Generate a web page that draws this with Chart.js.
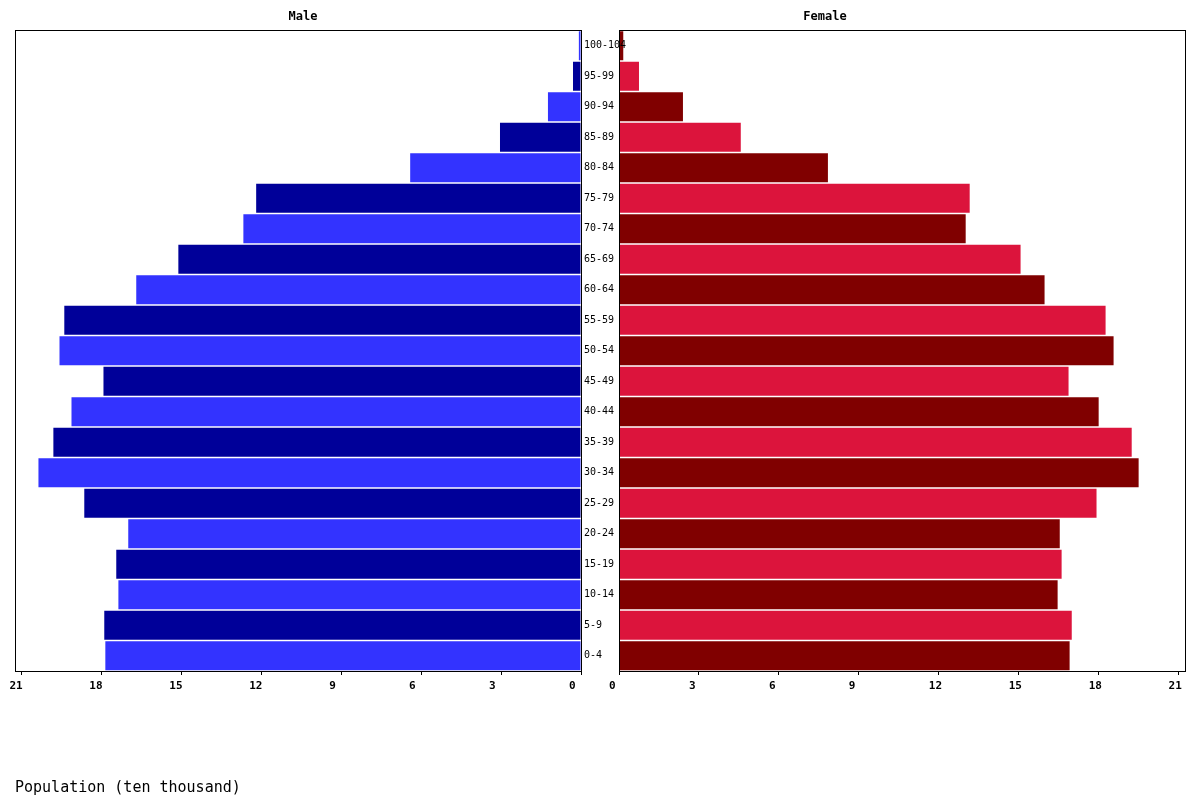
<!DOCTYPE html>
<html>
<head>
<meta charset="utf-8">
<title>Population pyramid</title>
<script src="https://cdn.jsdelivr.net/npm/chart.js@4.4.0/dist/chart.umd.min.js"></script>
<style>
  body { margin: 0; background: #fff; }
  #wrap { position: relative; width: 1200px; height: 800px; }
  #wrap canvas { position: absolute; left: 0; top: 0; }
</style>
</head>
<body>
<div id="wrap">
  <canvas id="chartMale" width="1200" height="800"></canvas>
  <canvas id="chartFemale" width="1200" height="800"></canvas>
</div>
<script>
// Kelompok umur, dari bawah ke atas
const ageGroups = ['0-4', '5-9', '10-14', '15-19', '20-24', '25-29', '30-34', '35-39', '40-44', '45-49',
  '50-54', '55-59', '60-64', '65-69', '70-74', '75-79', '80-84', '85-89', '90-94', '95-99', '100-104'];

// Populasi (sepuluh ribu)
const male = [17.85, 17.89, 17.36, 17.44, 16.99, 18.64, 20.36, 19.80, 19.12, 17.92,
  19.57, 19.39, 16.69, 15.11, 12.67, 12.19, 6.41, 3.04, 1.24, 0.30, 0.08];
const female = [16.91, 16.99, 16.46, 16.61, 16.54, 17.92, 19.50, 19.24, 18.00, 16.87,
  18.56, 18.26, 15.97, 15.07, 13.01, 13.16, 7.84, 4.57, 2.40, 0.75, 0.16];

// Sumbu x: 0 .. 21, tiap 3
const tickStep = 3;
const axisMax = 21.24;

const maleColors = ['#3333ff', '#000099'];
const femaleColors = ['#800000', '#dc143c'];

Chart.defaults.font.family = "'DejaVu Sans Mono', monospace";
Chart.defaults.color = '#000';

// Bingkai hitam di sekeliling area grafik
const panelBorder = {
  id: 'panelBorder',
  afterDraw(chart) {
    const { ctx, chartArea: a } = chart;
    ctx.save();
    ctx.strokeStyle = '#000';
    ctx.lineWidth = 1;
    ctx.strokeRect(Math.round(a.left) + 0.5, Math.round(a.top) + 0.5,
      Math.round(a.right - a.left), Math.round(a.bottom - a.top));
    ctx.restore();
  }
};

function xTicks(offset) {
  return {
    stepSize: tickStep,
    includeBounds: false,
    autoSkip: false,
    align: 'start',
    labelOffset: offset,
    padding: 5,
    color: '#000',
    font: { size: 11, weight: 'bold' }
  };
}

// 1. Grafik laki-laki (kiri)
new Chart(document.getElementById('chartMale'), {
  type: 'bar',
  data: {
    labels: ageGroups,
    datasets: [{
      label: 'Male',
      data: male,
      backgroundColor: ageGroups.map((a, i) => maleColors[i % 2]),
      borderWidth: 0,
      barPercentage: 1,
      categoryPercentage: 0.95
    }]
  },
  options: {
    indexAxis: 'y',
    responsive: false,
    animation: false,
    layout: { padding: { left: 15, right: 609, top: 0, bottom: 0 } },
    plugins: {
      legend: { display: false },
      tooltip: { enabled: false },
      title: {
        display: true, text: 'Male', color: '#000',
        font: { size: 12, weight: 'bold' },
        padding: { top: 10, bottom: 6 }
      },
      subtitle: {
        display: true, text: 'Population (ten thousand)',
        position: 'bottom', align: 'start', color: '#000',
        font: { size: 15 },
        padding: { top: 78, bottom: 3 }
      }
    },
    scales: {
      x: {
        reverse: true,
        min: 0, max: axisMax,
        grid: { drawOnChartArea: false, color: '#000', tickLength: 4 },
        border: { display: false },
        ticks: xTicks(-12),
        afterFit: s => { s.height = 30; }
      },
      y: {
        position: 'right',
        reverse: true,
        grid: { display: false },
        border: { display: false },
        ticks: { display: false },
        afterFit: s => { s.width = 10; }
      }
    }
  },
  plugins: [panelBorder]
});

// 2. Grafik perempuan (kanan), label umur di sumbu kiri
new Chart(document.getElementById('chartFemale'), {
  type: 'bar',
  data: {
    labels: ageGroups,
    datasets: [{
      label: 'Female',
      data: female,
      backgroundColor: ageGroups.map((a, i) => femaleColors[i % 2]),
      borderWidth: 0,
      barPercentage: 1,
      categoryPercentage: 0.95
    }]
  },
  options: {
    indexAxis: 'y',
    responsive: false,
    animation: false,
    layout: { padding: { left: 465, right: 15, top: 0, bottom: 0 } },
    plugins: {
      legend: { display: false },
      tooltip: { enabled: false },
      title: {
        display: true, text: 'Female', color: '#000',
        font: { size: 12, weight: 'bold' },
        padding: { top: 10, bottom: 6 }
      }
    },
    scales: {
      x: {
        min: 0, max: axisMax,
        grid: { drawOnChartArea: false, color: '#000', tickLength: 4 },
        border: { display: false },
        ticks: xTicks(-10),
        afterFit: s => { s.height = 129; }
      },
      y: {
        position: 'left',
        reverse: true,
        grid: { display: false },
        border: { display: false },
        // label ditaruh di celah antara kedua panel
        ticks: { mirror: true, crossAlign: 'near', padding: -35, z: 1, autoSkip: false, color: '#000', font: { size: 10 } },
        afterFit: s => { s.width = 154; }
      }
    }
  },
  plugins: [panelBorder]
});
</script>
</body>
</html>
